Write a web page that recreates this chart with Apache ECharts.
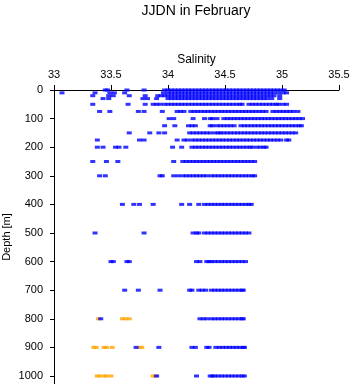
<head> </head>

<body style="margin:0">
  <div id="main" style="width: 353px; height: 384px"></div>
  <script src="https://cdn.jsdelivr.net/npm/echarts@6/dist/echarts.min.js"></script>
  <script>
    // axis ticks
    var salTicks = [33, 33.5, 34, 34.5, 35, 35.5];
    var depthTicks = [0, 100, 200, 300, 400, 500, 600, 700, 800, 900, 1000];

    // blue samples: salinity values observed at each depth
    var blue0 = [33.45, 33.47, 33.64, 33.79, 33.97, 34.00, 34.03, 34.06, 34.09, 34.12, 34.15, 34.18, 34.21, 34.24, 34.27, 34.30, 34.33, 34.36, 34.39, 34.42, 34.45, 34.48, 34.51, 34.54, 34.57, 34.60, 34.63, 34.66, 34.69, 34.72, 34.75, 34.78, 34.81, 34.84, 34.87, 34.90, 34.93, 34.96, 34.99, 35.02];
    var blue10 = [33.07, 33.36, 33.49, 33.53, 33.62, 33.96, 34.00, 34.03, 34.06, 34.09, 34.12, 34.15, 34.18, 34.21, 34.24, 34.27, 34.30, 34.33, 34.36, 34.39, 34.42, 34.45, 34.48, 34.51, 34.54, 34.57, 34.60, 34.63, 34.66, 34.69, 34.72, 34.75, 34.78, 34.81, 34.84, 34.87, 34.90, 34.93, 34.97, 35.01, 35.04];
    var blue20 = [33.34, 33.48, 33.52, 33.66, 33.80, 33.91, 33.94, 33.97, 34.00, 34.03, 34.06, 34.09, 34.12, 34.15, 34.18, 34.21, 34.24, 34.27, 34.30, 34.33, 34.36, 34.39, 34.42, 34.45, 34.48, 34.51, 34.54, 34.57, 34.60, 34.63, 34.66, 34.69, 34.72, 34.75, 34.78, 34.81, 34.84, 34.87, 34.90, 34.93, 34.98];
    var blue30 = [33.43, 33.48, 33.78, 33.82, 33.90, 34.00, 34.03, 34.06, 34.09, 34.12, 34.15, 34.18, 34.21, 34.24, 34.27, 34.30, 34.33, 34.36, 34.39, 34.42, 34.45, 34.48, 34.51, 34.54, 34.57, 34.60, 34.63, 34.66, 34.69, 34.72, 34.75, 34.78, 34.81, 34.84, 34.87, 34.91, 34.98];
    var blue50 = [33.34, 33.65, 33.80, 33.87, 33.90, 33.93, 33.97, 34.00, 34.03, 34.06, 34.09, 34.12, 34.15, 34.18, 34.21, 34.24, 34.27, 34.30, 34.33, 34.36, 34.39, 34.42, 34.45, 34.48, 34.51, 34.54, 34.57, 34.60, 34.63, 34.65, 34.71, 34.74, 34.77, 34.80, 34.83, 34.86, 34.89, 34.92, 34.95, 34.97, 35.01, 35.04];
    var blue75 = [33.40, 33.49, 33.74, 33.79, 33.95, 34.08, 34.11, 34.14, 34.20, 34.23, 34.26, 34.29, 34.32, 34.35, 34.38, 34.41, 34.44, 34.47, 34.50, 34.53, 34.56, 34.59, 34.62, 34.65, 34.68, 34.71, 34.74, 34.77, 34.80, 34.83, 34.86, 34.92, 34.95, 34.98, 35.01, 35.04, 35.07, 35.10, 35.14];
    var blue100 = [34.01, 34.05, 34.22, 34.32, 34.37, 34.39, 34.43, 34.49, 34.52, 34.55, 34.58, 34.61, 34.64, 34.67, 34.70, 34.73, 34.76, 34.79, 34.82, 34.85, 34.88, 34.91, 34.94, 34.97, 35.00, 35.03, 35.06, 35.09, 35.12, 35.15, 35.18];
    var blue125 = [33.97, 34.06, 34.18, 34.21, 34.24, 34.37, 34.39, 34.43, 34.46, 34.49, 34.52, 34.55, 34.58, 34.64, 34.67, 34.70, 34.73, 34.76, 34.79, 34.82, 34.85, 34.88, 34.91, 34.94, 34.97, 35.00, 35.03, 35.06, 35.09, 35.12, 35.15, 35.17];
    var blue150 = [33.66, 33.84, 33.92, 33.97, 34.19, 34.22, 34.25, 34.28, 34.31, 34.34, 34.37, 34.41, 34.44, 34.46, 34.49, 34.52, 34.55, 34.58, 34.61, 34.64, 34.67, 34.70, 34.73, 34.76, 34.79, 34.82, 34.85, 34.88, 34.91, 34.94, 34.97, 35.00, 35.03, 35.06, 35.09, 35.12];
    var blue175 = [33.38, 33.75, 33.79, 34.08, 34.14, 34.17, 34.21, 34.24, 34.27, 34.30, 34.33, 34.36, 34.39, 34.42, 34.45, 34.48, 34.51, 34.54, 34.57, 34.60, 34.63, 34.66, 34.69, 34.72, 34.75, 34.78, 34.81, 34.84, 34.87, 34.90, 34.93, 34.96, 34.99, 35.04, 35.06];
    var blue200 = [33.38, 33.43, 33.54, 33.57, 33.63, 34.04, 34.12, 34.21, 34.24, 34.27, 34.30, 34.33, 34.36, 34.39, 34.42, 34.45, 34.48, 34.51, 34.54, 34.57, 34.60, 34.63, 34.66, 34.69, 34.72, 34.74, 34.78, 34.81, 34.84, 34.86];
    var blue250 = [33.34, 33.46, 33.56, 34.05, 34.13, 34.16, 34.19, 34.22, 34.25, 34.28, 34.31, 34.34, 34.37, 34.40, 34.43, 34.46, 34.49, 34.52, 34.55, 34.58, 34.61, 34.64, 34.67, 34.70, 34.73, 34.76];
    var blue300 = [33.40, 33.45, 33.93, 33.95, 34.05, 34.09, 34.13, 34.16, 34.19, 34.22, 34.25, 34.28, 34.31, 34.34, 34.38, 34.41, 34.44, 34.47, 34.50, 34.53, 34.56, 34.59, 34.62, 34.65, 34.68, 34.71, 34.74, 34.76];
    var blue400 = [33.60, 33.70, 33.75, 33.87, 34.12, 34.19, 34.27, 34.32, 34.35, 34.38, 34.41, 34.44, 34.47, 34.50, 34.53, 34.56, 34.59, 34.62, 34.65, 34.68, 34.71, 34.73];
    var blue500 = [33.36, 33.79, 34.22, 34.25, 34.27, 34.32, 34.35, 34.38, 34.41, 34.44, 34.47, 34.50, 34.53, 34.56, 34.59, 34.62, 34.65, 34.68, 34.71];
    var blue600 = [33.50, 33.52, 33.64, 33.66, 34.25, 34.28, 34.34, 34.36, 34.38, 34.41, 34.44, 34.47, 34.50, 34.53, 34.56, 34.59, 34.62, 34.65, 34.68];
    var blue700 = [33.62, 33.74, 33.93, 34.19, 34.21, 34.27, 34.30, 34.33, 34.38, 34.41, 34.44, 34.47, 34.50, 34.53, 34.56, 34.59, 34.62, 34.65, 34.66];
    var blue800 = [33.41, 34.28, 34.31, 34.34, 34.38, 34.41, 34.44, 34.47, 34.50, 34.53, 34.56, 34.59, 34.62, 34.65, 34.66];
    var blue900 = [33.72, 33.92, 34.21, 34.24, 34.34, 34.36, 34.42, 34.45, 34.48, 34.51, 34.54, 34.57, 34.60, 34.63, 34.66, 34.67];
    var blue1000 = [33.90, 34.25, 34.37, 34.39, 34.41, 34.44, 34.47, 34.50, 34.53, 34.56, 34.59, 34.62, 34.65, 34.67];

    // orange samples (deep layers only)
    var orange800 = [33.39, 33.60, 33.63, 33.66];
    var orange900 = [33.35, 33.37, 33.44, 33.46, 33.51, 33.75, 33.77];
    var orange1000 = [33.38, 33.40, 33.44, 33.46, 33.50, 33.87, 33.89];

    var blueRows = [
      [0, blue0], [10, blue10], [20, blue20], [30, blue30], [50, blue50],
      [75, blue75], [100, blue100], [125, blue125], [150, blue150],
      [175, blue175], [200, blue200], [250, blue250], [300, blue300],
      [400, blue400], [500, blue500], [600, blue600], [700, blue700],
      [800, blue800], [900, blue900], [1000, blue1000]
    ];
    var orangeRows = [[800, orange800], [900, orange900], [1000, orange1000]];

    function toPoints(rows) {
      var pts = [];
      rows.forEach(function (r) {
        r[1].forEach(function (s) {
          pts.push([s, r[0]]);
        });
      });
      return pts;
    }

    var font = "Liberation Sans";
    var myChart = echarts.init(document.getElementById("main"));
    var option = {
      animation: false,
      backgroundColor: "#fff",
      title: {
        text: "JJDN in February",
        left: 196,
        top: -1,
        padding: 0,
        textAlign: "center",
        textStyle: { fontFamily: font, fontSize: 14, fontWeight: "normal", color: "#000" }
      },
      grid: { left: 54, top: 90, right: 14, bottom: 0, containLabel: false, outerBoundsMode: "none" },
      xAxis: {
        type: "value",
        position: "top",
        min: salTicks[0],
        max: salTicks[salTicks.length - 1],
        interval: 0.5,
        name: "Salinity",
        nameLocation: "middle",
        nameGap: 20,
        nameMoveOverlap: false,
        nameTextStyle: { fontFamily: font, fontSize: 12, color: "#000" },
        axisLine: { lineStyle: { color: "#000", width: 1 } },
        axisTick: { length: 5, lineStyle: { color: "#000" } },
        axisLabel: { fontFamily: font, fontSize: 11, color: "#000", margin: 6, formatter: function (v) { return String(v); } },
        splitLine: { show: false }
      },
      yAxis: {
        type: "value",
        inverse: true,
        min: depthTicks[0],
        max: 1028,
        interval: 100,
        name: "Depth [m]",
        nameLocation: "middle",
        nameRotate: 90,
        nameGap: 38,
        nameMoveOverlap: false,
        nameTextStyle: { fontFamily: font, fontSize: 11, color: "#000" },
        axisLine: { show: true, lineStyle: { color: "#000", width: 1 } },
        axisTick: { show: true, length: 4, lineStyle: { color: "#000" } },
        axisLabel: { fontFamily: font, fontSize: 11, color: "#000", margin: 11, showMaxLabel: false, formatter: function (v) { return String(v); } },
        splitLine: { show: false }
      },
      series: [
        {
          type: "scatter",
          symbol: "rect",
          symbolSize: [5, 3],
          itemStyle: { color: "#ffa500" },
          data: toPoints(orangeRows)
        },
        {
          type: "scatter",
          symbol: "rect",
          symbolSize: [5, 3],
          itemStyle: { color: "#0000ff" },
          data: toPoints(blueRows)
        }
      ]
    };
    myChart.setOption(option);
  </script>
</body>
